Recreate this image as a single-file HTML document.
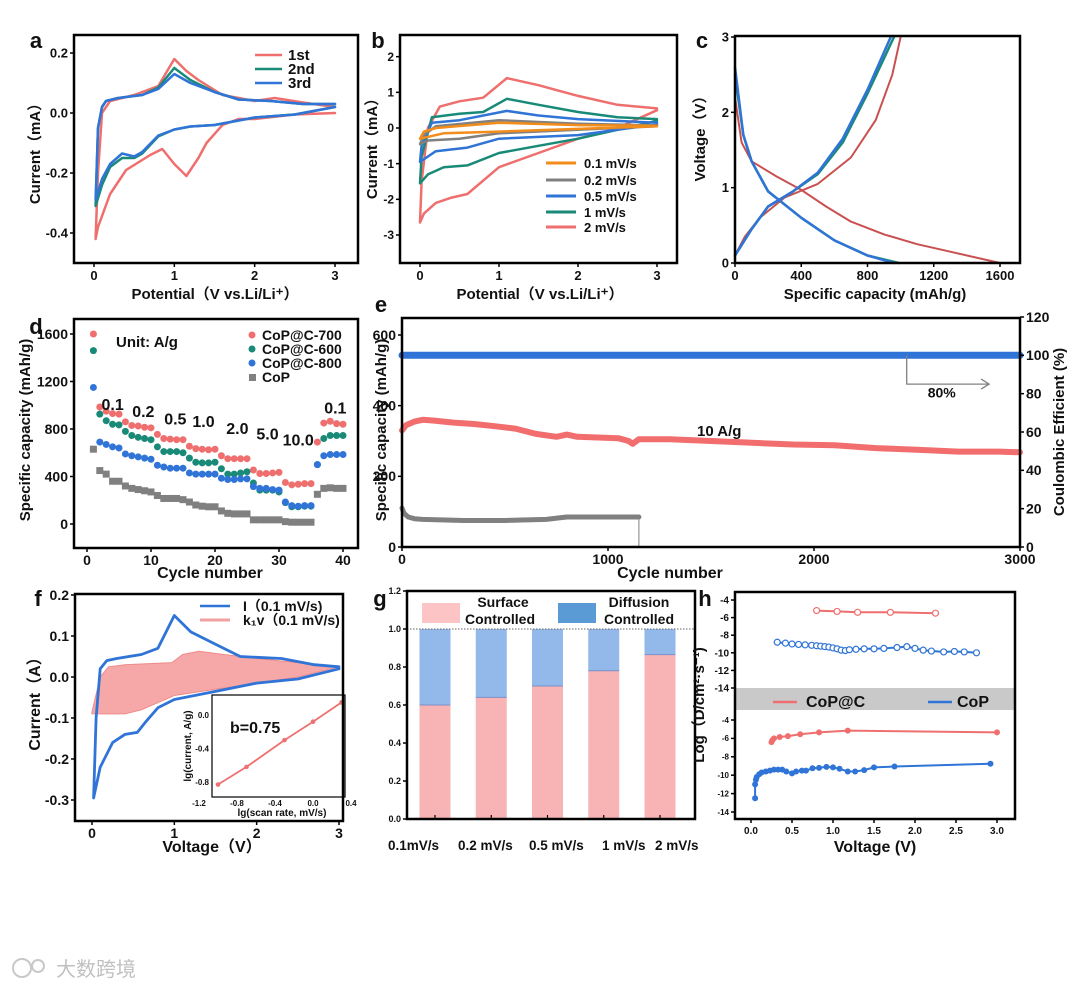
<!DOCTYPE html>
<html><head><meta charset="utf-8"><style>
html,body{margin:0;padding:0;background:#fff;}
svg{display:block;font-family:"Liberation Sans","Noto Sans CJK SC",sans-serif;}
</style></head><body>
<svg id="fig" width="1080" height="991" viewBox="0 0 1080 991"></svg>
<script>
// ---------- data ----------
const aC3x=[3,2.5,2,1.5,1.2,1.0,0.8,0.6,0.5,0.35,0.2,0.1,0.02,0.05,0.1,0.15,0.3,0.6,0.8,1.0,1.2,1.5,1.8,2.2,2.6,3];
const aC3y=[0.02,-0.005,-0.015,-0.04,-0.045,-0.055,-0.075,-0.13,-0.145,-0.135,-0.17,-0.22,-0.29,-0.05,0.02,0.04,0.05,0.06,0.08,0.13,0.1,0.07,0.045,0.04,0.03,0.03];
const aC2x=[3,2.5,2,1.5,1.2,1.0,0.8,0.6,0.5,0.35,0.2,0.1,0.02,0.05,0.1,0.15,0.3,0.6,0.8,1.0,1.2,1.5,1.8,2.2,2.6,3];
const aC2y=[0.02,-0.005,-0.015,-0.04,-0.045,-0.055,-0.078,-0.135,-0.15,-0.15,-0.18,-0.24,-0.31,-0.05,0.02,0.04,0.05,0.06,0.085,0.15,0.11,0.07,0.045,0.04,0.03,0.03];
const aC1x=[3,2.5,2,1.8,1.6,1.4,1.3,1.15,1.0,0.85,0.7,0.4,0.2,0.05,0.02,0.05,0.1,0.2,0.5,0.8,1.0,1.15,1.3,1.6,2,2.25,2.6,3];
const aC1y=[0,-0.005,-0.02,-0.02,-0.04,-0.1,-0.15,-0.21,-0.17,-0.12,-0.14,-0.19,-0.27,-0.38,-0.42,-0.2,0,0.04,0.06,0.09,0.18,0.14,0.11,0.06,0.04,0.05,0.035,0.02];
const b2x=[3,2.5,2,1.5,1,0.6,0.4,0.2,0.05,0,0.02,0.1,0.25,0.5,0.8,1.1,1.5,2,2.5,3];
const b2y=[0.5,0.0,-0.3,-0.7,-1.1,-1.85,-1.95,-2.1,-2.4,-2.65,-1.5,0,0.6,0.75,0.85,1.4,1.2,0.9,0.65,0.55];
const b1x=[3,2,1.5,1,0.6,0.3,0.1,0,0.02,0.15,0.5,0.8,1.1,1.5,2,2.5,3];
const b1y=[0.2,-0.3,-0.5,-0.7,-1.05,-1.1,-1.3,-1.55,-0.8,0.3,0.4,0.45,0.82,0.65,0.45,0.3,0.25];
const b05x=[3,2,1,0.6,0.2,0,0.02,0.15,0.5,1.1,1.5,2,3];
const b05y=[0.1,-0.2,-0.3,-0.55,-0.65,-0.95,-0.5,0.15,0.22,0.48,0.35,0.25,0.15];
const b02x=[3,1,0.5,0.1,0,0.05,0.2,1.0,2,3];
const b02y=[0.05,-0.15,-0.3,-0.35,-0.45,-0.2,0.05,0.22,0.12,0.07];
const b01x=[3,1,0.3,0,0.05,0.2,1.0,2,3];
const b01y=[0.05,-0.1,-0.15,-0.3,-0.1,0,0.15,0.08,0.06];
const cRdx=[0,40,100,250,400,550,700,900,1100,1300,1600];
const cRdy=[2.2,1.6,1.35,1.15,0.97,0.75,0.55,0.38,0.25,0.15,0];
const cRcx=[0,60,150,300,500,700,850,950,1000];
const cRcy=[0.1,0.35,0.6,0.87,1.05,1.4,1.9,2.5,3];
const cBdx=[0,50,100,200,400,600,800,960];
const cBdy=[2.6,1.7,1.35,0.95,0.6,0.3,0.1,0];
const cGdx=[0,50,100,200,400,600,800,990];
const cGdy=[2.5,1.7,1.35,0.95,0.6,0.3,0.1,0];
const cBcx=[0,100,200,350,500,650,800,940];
const cBcy=[0.1,0.45,0.75,0.95,1.2,1.65,2.3,3];
const cGcx=[0,100,200,350,500,650,800,960];
const cGcy=[0.1,0.45,0.75,0.95,1.18,1.6,2.25,3];
const dCycles=Array.from({length:40},(_,i)=>i+1);
const d700=[1600,985,950,930,925,860,830,825,815,810,755,720,715,710,710,655,635,630,625,630,575,550,550,550,550,455,425,425,430,435,350,330,335,340,340,690,850,865,845,840];
const d600=[1460,925,870,840,835,780,745,730,720,710,650,610,610,610,600,555,520,515,515,520,465,420,420,430,440,345,285,285,285,270,180,145,145,150,150,500,720,745,745,745];
const d800=[1150,690,670,650,640,590,575,565,555,545,495,480,470,470,470,430,420,420,420,420,385,375,375,380,380,315,300,300,290,285,185,155,150,155,155,500,575,585,585,585];
const dCoP=[630,450,420,360,360,320,300,290,280,270,240,215,215,215,205,185,160,150,145,145,110,90,85,85,85,35,35,35,35,35,20,15,15,15,15,250,300,305,300,300];
const dRates=['0.1','0.2','0.5','1.0','2.0','5.0','10.0','0.1'];
const dRateX=[4.0,8.8,13.8,18.2,23.5,28.2,33.0,38.8];
const dRateY=[960,900,840,815,760,710,660,930];
const eRedX=[0,20,60,100,150,250,350,450,550,650,750,800,850,950,1050,1100,1120,1150,1300,1500,1700,1900,2100,2300,2500,2700,2900,3000];
const eRedY=[330,345,355,360,358,352,348,342,335,320,312,318,312,310,308,300,292,305,305,300,295,290,288,280,275,270,270,268];
const eGrayX=[0,10,30,60,100,300,500,700,800,1000,1150];
const eGrayY=[110,95,85,80,78,75,75,78,85,85,85];
const eCEx=[0,3000];
const eCEy=[100,100];
const fIx=[3,2.5,2,1.5,1,0.8,0.65,0.55,0.4,0.25,0.1,0.02,0.05,0.1,0.18,0.3,0.6,0.8,1.0,1.2,1.5,1.8,2.3,2.7,3];
const fIy=[0.02,-0.005,-0.015,-0.035,-0.055,-0.075,-0.11,-0.135,-0.14,-0.16,-0.22,-0.295,-0.1,0.02,0.04,0.045,0.055,0.07,0.15,0.11,0.08,0.05,0.045,0.03,0.025];
const fKx=[0,0.1,0.2,0.4,0.97,1.1,1.3,1.6,2.0,2.5,3,2.5,2,1.5,1,0.6,0.4,0];
const fKy=[-0.085,0,0.025,0.03,0.035,0.055,0.063,0.055,0.045,0.035,0.025,0,-0.015,-0.03,-0.045,-0.08,-0.09,-0.09];
const fInX=[-1,-0.7,-0.3,0,0.3];
const fInY=[-0.83,-0.62,-0.3,-0.08,0.15];
const gCats=['0.1mV/s','0.2 mV/s','0.5 mV/s','1 mV/s','2 mV/s'];
const gSurface=[0.60,0.64,0.70,0.78,0.865];
const hUpRx=[0.8,1.05,1.3,1.7,2.25];
const hUpRy=[-5.2,-5.3,-5.4,-5.4,-5.5];
const hUpBx=[.32,.42,.5,.58,.66,.74,.8,.85,.9,.95,1.0,1.05,1.1,1.15,1.2,1.28,1.38,1.5,1.62,1.78,1.9,2.0,2.1,2.2,2.35,2.48,2.6,2.75];
const hUpBy=[-8.8,-8.9,-9.0,-9.05,-9.1,-9.15,-9.2,-9.25,-9.3,-9.35,-9.45,-9.55,-9.7,-9.75,-9.65,-9.6,-9.55,-9.55,-9.5,-9.4,-9.3,-9.5,-9.7,-9.8,-9.9,-9.85,-9.9,-10.0];
const hLoRx=[.25,.26,.28,.35,.45,.6,.83,1.18,3.0];
const hLoRy=[-6.4,-6.2,-6.0,-5.85,-5.75,-5.55,-5.35,-5.15,-5.35];
const hLoBx=[.05,.05,.06,.07,.1,.13,.18,.23,.28,.33,.38,.43,.5,.55,.62,.67,.75,.83,.92,1.0,1.08,1.18,1.27,1.38,1.5,1.75,2.92];
const hLoBy=[-12.5,-11,-10.5,-10.2,-9.9,-9.7,-9.6,-9.5,-9.4,-9.4,-9.4,-9.6,-9.8,-9.6,-9.5,-9.5,-9.25,-9.2,-9.1,-9.15,-9.3,-9.6,-9.6,-9.45,-9.15,-9.05,-8.75];

// ---------- helpers ----------
const NS='http://www.w3.org/2000/svg';
const svg=document.getElementById('fig');
function add(p,tag,at,name){
  const el=document.createElementNS(NS,tag);
  for(const k in at) el.setAttribute(k,at[k]);
  
  
  p.appendChild(el);return el;
}
function lin(d0,d1,r0,r1){return v=>r0+(v-d0)*(r1-r0)/(d1-d0);}
function txt(p,x,y,s,o,name){const t=add(p,'text',Object.assign({x:x,y:y,'font-size':13,'font-weight':'bold','text-anchor':'middle',fill:'#111'},o||{}),name);t.textContent=s;return t;}
function box(p,x0,y0,x1,y1,name){add(p,'rect',{x:x0,y:y0,width:x1-x0,height:y1-y0,fill:'none',stroke:'#000','stroke-width':2.5},name);}
function xaxis(p,sx,ticks,labels,y,name,fs,off){ticks.forEach((t,i)=>{add(p,'line',{x1:sx(t),x2:sx(t),y1:y,y2:y+4,stroke:'#000','stroke-width':1.5},name+'-tick');txt(p,sx(t),y+(off||17),labels[i],{'font-size':fs||13},name+'-label');});}
function yaxis(p,sy,ticks,labels,x,name,fs,right){ticks.forEach((t,i)=>{add(p,'line',{x1:x,x2:right?x+4:x-4,y1:sy(t),y2:sy(t),stroke:'#000','stroke-width':1.5},name+'-tick');txt(p,right?x+6:x-6,sy(t)+(fs||13)*0.35,labels[i],{'font-size':fs||13,'text-anchor':right?'start':'end'},name+'-label');});}
function pl(p,xs,ys,sx,sy,stroke,w,name,extra){const pts=xs.map((x,i)=>sx(x).toFixed(1)+','+sy(ys[i]).toFixed(1)).join(' ');return add(p,'polyline',Object.assign({points:pts,fill:'none',stroke:stroke,'stroke-width':w,'stroke-linejoin':'round','stroke-linecap':'round'},extra||{}),name);}
function vtitle(p,x,y,s,fs,name){return txt(p,x,y,s,{'font-size':fs||15,transform:'rotate(-90 '+x+' '+y+')'},name);}
const RED='#ef6f6f',GRN='#1a8a78',BLU='#2f74d6',GRY='#808080',ORG='#f28c1a';

// ---------- panel a ----------
{const g=add(svg,'g',{},'panel-a');
const sx=lin(0,3,94,335),sy=lin(0,-0.4,113,233);
pl(g,aC1x,aC1y,sx,sy,RED,2.5,'cycle-1st-line');
pl(g,aC2x,aC2y,sx,sy,GRN,2.5,'cycle-2nd-line');
pl(g,aC3x,aC3y,sx,sy,BLU,2.5,'cycle-3rd-line');
box(g,74,35,358,263,'plot-frame');
xaxis(g,sx,[0,1,2,3],['0','1','2','3'],263,'x-axis');
yaxis(g,sy,[0.2,0,-0.2,-0.4],['0.2','0.0','-0.2','-0.4'],74,'y-axis');
txt(g,36,48,'a',{'font-size':22},'panel-label');
vtitle(g,40,150,'Current（mA）',15,'y-axis-title');
txt(g,215,299,'Potential（V vs.Li/Li⁺）',{'font-size':15},'x-axis-title');
[['1st',RED,55],['2nd',GRN,69],['3rd',BLU,83]].forEach(l=>{add(g,'line',{x1:255,x2:282,y1:l[2],y2:l[2],stroke:l[1],'stroke-width':2.5},'legend-swatch');txt(g,288,l[2]+5,l[0],{'font-size':15,'text-anchor':'start'},'legend-entry');});
}
// ---------- panel b ----------
{const g=add(svg,'g',{},'panel-b');
const sx=lin(0,3,420,657),sy=lin(0,-3,128,235);
pl(g,b2x,b2y,sx,sy,RED,2.5,'rate-2-line');
pl(g,b1x,b1y,sx,sy,GRN,2.5,'rate-1-line');
pl(g,b05x,b05y,sx,sy,BLU,2.5,'rate-0.5-line');
pl(g,b02x,b02y,sx,sy,GRY,2.5,'rate-0.2-line');
pl(g,b01x,b01y,sx,sy,ORG,2.5,'rate-0.1-line');
box(g,400,35,677,263,'plot-frame');
xaxis(g,sx,[0,1,2,3],['0','1','2','3'],263,'x-axis');
yaxis(g,sy,[2,1,0,-1,-2,-3],['2','1','0','-1','-2','-3'],400,'y-axis',12);
txt(g,378,48,'b',{'font-size':22},'panel-label');
vtitle(g,377,145,'Current（mA）',15,'y-axis-title');
txt(g,540,299,'Potential（V vs.Li/Li⁺）',{'font-size':15},'x-axis-title');
[['0.1 mV/s',ORG,163],['0.2 mV/s',GRY,180],['0.5 mV/s',BLU,196],['1 mV/s',GRN,212],['2 mV/s',RED,227]].forEach(l=>{add(g,'line',{x1:546,x2:576,y1:l[2],y2:l[2],stroke:l[1],'stroke-width':3},'legend-swatch');txt(g,584,l[2]+5,l[0],{'font-size':13,'text-anchor':'start'},'legend-entry');});
}
// ---------- panel c ----------
{const g=add(svg,'g',{},'panel-c');
const sx=lin(0,1600,735,1000),sy=lin(0,3,263,37);
pl(g,cRdx,cRdy,sx,sy,'#c95050',2,'discharge-1-line');
pl(g,cRcx,cRcy,sx,sy,'#c95050',2,'charge-1-line');
pl(g,cGdx,cGdy,sx,sy,GRN,2.5,'discharge-2-line');
pl(g,cGcx,cGcy,sx,sy,GRN,2.5,'charge-2-line');
pl(g,cBdx,cBdy,sx,sy,BLU,2.5,'discharge-3-line');
pl(g,cBcx,cBcy,sx,sy,BLU,2.5,'charge-3-line');
box(g,735,36,1020,263,'plot-frame');
xaxis(g,sx,[0,400,800,1200,1600],['0','400','800','1200','1600'],263,'x-axis');
yaxis(g,sy,[0,1,2,3],['0','1','2','3'],735,'y-axis');
txt(g,702,48,'c',{'font-size':22},'panel-label');
vtitle(g,705,135,'Voltage（V）',15,'y-axis-title');
txt(g,875,299,'Specific capacity (mAh/g)',{'font-size':15},'x-axis-title');
}
// ---------- panel d ----------
{const g=add(svg,'g',{},'panel-d');
const sx=lin(0,40,87,343),sy=lin(0,1600,524,334);
[[d700,RED],[d600,GRN],[d800,BLU]].forEach((s,k)=>{s[0].forEach((v,i)=>{add(g,'circle',{cx:sx(dCycles[i]),cy:sy(v),r:3.5,fill:s[1]},'point-'+['700','600','800'][k]);});});
dCoP.forEach((v,i)=>{add(g,'rect',{x:sx(dCycles[i])-3.5,y:sy(v)-3.5,width:7,height:7,fill:GRY},'point-cop');});
dRates.forEach((r,i)=>{txt(g,sx(dRateX[i]),sy(dRateY[i]),r,{'font-size':16},'rate-label');});
box(g,74,319,358,548,'plot-frame');
xaxis(g,sx,[0,10,20,30,40],['0','10','20','30','40'],548,'x-axis',14);
yaxis(g,sy,[0,400,800,1200,1600],['0','400','800','1200','1600'],74,'y-axis',14);
txt(g,36,334,'d',{'font-size':22},'panel-label');
vtitle(g,30,430,'Specific capacity (mAh/g)',15,'y-axis-title');
txt(g,210,578,'Cycle number',{'font-size':16},'x-axis-title');
txt(g,116,347,'Unit: A/g',{'font-size':15,'text-anchor':'start'},'unit-note');
[['CoP@C-700',RED,335],['CoP@C-600',GRN,349],['CoP@C-800',BLU,363]].forEach(l=>{add(g,'circle',{cx:252,cy:l[2],r:3.5,fill:l[1]},'legend-marker');txt(g,262,l[2]+5,l[0],{'font-size':14,'text-anchor':'start'},'legend-entry');});
add(g,'rect',{x:249,y:374,width:7,height:7,fill:GRY},'legend-marker');txt(g,262,382,'CoP',{'font-size':14,'text-anchor':'start'},'legend-entry');
}
// ---------- panel e ----------
{const g=add(svg,'g',{},'panel-e');
const sx=lin(0,3000,402,1020),sy=lin(0,600,547,335),sy2=lin(0,120,547,317);
pl(g,eCEx,eCEy,sx,sy2,BLU,7,'coulombic-efficiency-line');
pl(g,eRedX,eRedY,sx,sy,'#f26d6d',6,'copc-capacity-line');
pl(g,eGrayX,eGrayY,sx,sy,GRY,5,'cop-capacity-line');
add(g,'line',{x1:sx(1150),x2:sx(1150),y1:sy(80),y2:sy(0),stroke:GRY,'stroke-width':1},'cop-end-marker');
pl(g,[2450,2450,2850],[100,85,85],sx,sy2,GRY,1.3,'retention-arrow',{'stroke-linecap':'butt'});
add(g,'path',{d:'M'+(sx(2850)-8)+','+(sy2(85)-5)+' L'+sx(2850)+','+sy2(85)+' L'+(sx(2850)-8)+','+(sy2(85)+5),fill:'none',stroke:GRY,'stroke-width':1.3},'arrow-head');
txt(g,sx(2620),sy2(78),'80%',{'font-size':14},'retention-label');
txt(g,sx(1540),436,'10 A/g',{'font-size':15},'rate-label');
box(g,402,318,1020,547,'plot-frame');
xaxis(g,sx,[0,1000,2000,3000],['0','1000','2000','3000'],547,'x-axis',14);
yaxis(g,sy,[0,200,400,600],['0','200','400','600'],402,'y-axis-left',14);
yaxis(g,sy2,[0,20,40,60,80,100,120],['0','20','40','60','80','100','120'],1020,'y-axis-right',14,true);
txt(g,381,312,'e',{'font-size':22},'panel-label');
vtitle(g,386,430,'Specific capacity (mAh/g)',15,'y-axis-title-left');
vtitle(g,1064,432,'Coulombic Efficient (%)',15,'y-axis-title-right');
txt(g,670,578,'Cycle number',{'font-size':16},'x-axis-title');
}
// ---------- panel f ----------
{const g=add(svg,'g',{},'panel-f');
const sx=lin(0,3,92,339),sy=lin(0,0.1,677,636);
const kp=fKx.map((x,i)=>sx(x).toFixed(1)+','+sy(fKy[i]).toFixed(1)).join(' ');
add(g,'polygon',{points:kp,fill:'#f6a8a8',stroke:'#ef8a8a','stroke-width':1},'capacitive-area');
pl(g,fIx,fIy,sx,sy,BLU,2.8,'total-current-line');
add(g,'rect',{x:212,y:695,width:133,height:102,fill:'#fff',stroke:'#000','stroke-width':1.2},'inset-frame');
const ix=lin(0,1,313,408),iy=lin(0,-0.8,715,782);
pl(g,fInX,fInY,ix,iy,'#ef7070',1.8,'inset-fit-line');
fInX.forEach((x,i)=>{add(g,'circle',{cx:ix(x),cy:iy(fInY[i]),r:2.3,fill:'#ef7070'},'inset-point');});
[-1.2,-0.8,-0.4,0,0.4].forEach((t,i)=>{txt(g,ix(t),806,['-1.2','-0.8','-0.4','0.0','0.4'][i],{'font-size':8},'inset-x-label');});
[0,-0.4,-0.8].forEach((t,i)=>{txt(g,209,iy(t)+3,['0.0','-0.4','-0.8'][i],{'font-size':8,'text-anchor':'end'},'inset-y-label');});
txt(g,282,816,'lg(scan rate, mV/s)',{'font-size':10},'inset-x-title');
vtitle(g,191,746,'lg(current, A/g)',10,'inset-y-title');
txt(g,230,733,'b=0.75',{'font-size':16,'text-anchor':'start'},'slope-label');
box(g,75,594,343,821,'plot-frame');
xaxis(g,sx,[0,1,2,3],['0','1','2','3'],821,'x-axis',14);
yaxis(g,sy,[0.2,0.1,0,-0.1,-0.2,-0.3],['0.2','0.1','0.0','-0.1','-0.2','-0.3'],75,'y-axis',14);
txt(g,38,606,'f',{'font-size':22},'panel-label');
vtitle(g,40,700,'Current（A）',16,'y-axis-title');
txt(g,212,852,'Voltage（V）',{'font-size':16},'x-axis-title');
add(g,'line',{x1:200,x2:230,y1:606,y2:606,stroke:BLU,'stroke-width':2.5},'legend-swatch');
txt(g,243,611,'I（0.1 mV/s)',{'font-size':14,'text-anchor':'start'},'legend-entry');
add(g,'line',{x1:200,x2:230,y1:620,y2:620,stroke:'#f3a0a0','stroke-width':3},'legend-swatch');
txt(g,243,625,'k₁v（0.1 mV/s)',{'font-size':14,'text-anchor':'start'},'legend-entry');
}
// ---------- panel g ----------
{const g=add(svg,'g',{},'panel-g');
const sy=lin(0,1.2,819,591),cx=i=>435+i*56.25,bw=31;
const labelStart=[388,458,529,602,655];
gSurface.forEach((v,i)=>{
  add(g,'rect',{x:cx(i)-bw/2,y:sy(v),width:bw,height:sy(0)-sy(v),fill:'#f8b4b4'},'bar-surface');
  add(g,'rect',{x:cx(i)-bw/2,y:sy(1),width:bw,height:sy(v)-sy(1),fill:'#92b9ea'},'bar-diffusion');
  add(g,'line',{x1:cx(i)-bw/2,x2:cx(i)+bw/2,y1:sy(v),y2:sy(v),stroke:'#7a90c8','stroke-width':1},'bar-divider');
  txt(g,labelStart[i],850,gCats[i],{'font-size':13.5,'text-anchor':'start'},'category-label');
});
add(g,'line',{x1:407,x2:695,y1:sy(1),y2:sy(1),stroke:'#666','stroke-width':1,'stroke-dasharray':'1.5,1.5'},'reference-line');
box(g,407,591,695,819,'plot-frame');
yaxis(g,sy,[0,0.2,0.4,0.6,0.8,1.0,1.2],['0.0','0.2','0.4','0.6','0.8','1.0','1.2'],407,'y-axis',9);
[0,1,2,3,4].forEach(i=>add(g,'line',{x1:cx(i),x2:cx(i),y1:819,y2:815,stroke:'#000','stroke-width':1.2},'x-tick'));
txt(g,380,606,'g',{'font-size':22},'panel-label');
add(g,'rect',{x:422,y:603,width:38,height:20,fill:'#fcc4c4'},'legend-swatch');
txt(g,503,607,'Surface',{'font-size':14},'legend-entry');txt(g,500,624,'Controlled',{'font-size':14},'legend-entry');
add(g,'rect',{x:558,y:603,width:38,height:20,fill:'#5b9bd5'},'legend-swatch');
txt(g,639,607,'Diffusion',{'font-size':14},'legend-entry');txt(g,639,624,'Controlled',{'font-size':14},'legend-entry');
}
// ---------- panel h ----------
{const g=add(svg,'g',{},'panel-h');
const sx=lin(0,3,751,997),su=lin(-4,-14,600,688),sl=lin(-4,-14,720,812);
add(g,'rect',{x:735,y:688,width:280,height:22,fill:'#c9c9c9'},'legend-band');
pl(g,hUpRx,hUpRy,sx,su,RED,2,'upper-copc-line');
hUpRx.forEach((x,i)=>add(g,'circle',{cx:sx(x),cy:su(hUpRy[i]),r:3,fill:'#fff',stroke:RED,'stroke-width':1.2},'upper-copc-point'));
pl(g,hUpBx,hUpBy,sx,su,BLU,2,'upper-cop-line');
hUpBx.forEach((x,i)=>add(g,'circle',{cx:sx(x),cy:su(hUpBy[i]),r:3,fill:'#fff',stroke:BLU,'stroke-width':1.2},'upper-cop-point'));
pl(g,hLoRx,hLoRy,sx,sl,RED,2,'lower-copc-line');
hLoRx.forEach((x,i)=>add(g,'circle',{cx:sx(x),cy:sl(hLoRy[i]),r:3,fill:RED},'lower-copc-point'));
pl(g,hLoBx,hLoBy,sx,sl,BLU,2,'lower-cop-line');
hLoBx.forEach((x,i)=>add(g,'circle',{cx:sx(x),cy:sl(hLoBy[i]),r:3,fill:BLU},'lower-cop-point'));
box(g,735,592,1015,819,'plot-frame');
yaxis(g,su,[-4,-6,-8,-10,-12,-14],['-4','-6','-8','-10','-12','-14'],735,'y-axis-upper',10);
yaxis(g,sl,[-4,-6,-8,-10,-12,-14],['-4','-6','-8','-10','-12','-14'],735,'y-axis-lower',8);
xaxis(g,sx,[0,0.5,1,1.5,2,2.5,3],['0.0','0.5','1.0','1.5','2.0','2.5','3.0'],819,'x-axis',10,15);
txt(g,705,606,'h',{'font-size':22},'panel-label');
vtitle(g,704,705,'Log（D/cm²·s⁻¹)',15,'y-axis-title');
txt(g,875,852,'Voltage (V)',{'font-size':16},'x-axis-title');
add(g,'line',{x1:773,x2:797,y1:702,y2:702,stroke:RED,'stroke-width':2.5},'legend-swatch');
txt(g,806,707,'CoP@C',{'font-size':16,'text-anchor':'start'},'legend-entry');
add(g,'line',{x1:928,x2:952,y1:702,y2:702,stroke:BLU,'stroke-width':2.5},'legend-swatch');
txt(g,957,707,'CoP',{'font-size':16,'text-anchor':'start'},'legend-entry');
}
// watermark
{const g=add(svg,'g',{},'watermark');
add(g,'circle',{cx:22,cy:968,r:9,fill:'none',stroke:'#c8c8c8','stroke-width':2},'watermark-icon');
add(g,'circle',{cx:38,cy:966,r:6,fill:'none',stroke:'#c8c8c8','stroke-width':2},'watermark-icon');
txt(g,56,976,'大数跨境',{'font-size':20,'font-weight':'normal',fill:'#c0c0c0','text-anchor':'start'},'watermark-text');
}
</script>
</body></html>
